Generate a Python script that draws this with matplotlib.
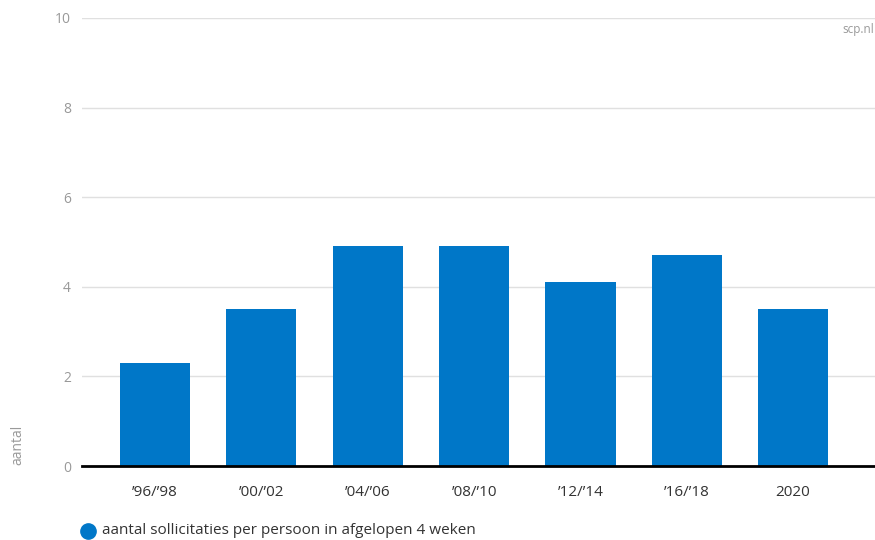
import numpy as np
import matplotlib.pyplot as plt
from matplotlib.lines import Line2D

# data
periodes = ['\u201996/\u201998', '\u201900/\u201902', '\u201904/\u201906', '\u201908/\u201910',
            '\u201912/\u201914', '\u201916/\u201918', '2020']
sollicitaties = [2.3, 3.5, 4.9, 4.9, 4.1, 4.7, 3.5]
yticks = [0, 2, 4, 6, 8, 10]

plt.rcParams['font.family'] = ['Open Sans', 'DejaVu Sans']

fig = plt.figure(figsize=(8.75, 5.4), dpi=100)
ax = fig.add_axes([82/875, 1-466/540, 1-82/875, (466-18)/540])

x = np.arange(len(periodes))
ax.bar(x, sollicitaties, width=0.66, color='#0077c8', zorder=2)

ax.set_ylim(0, 10)
ax.set_xlim(-0.687, 6.77)
ax.set_yticks(yticks)
ax.set_yticklabels([str(v) for v in yticks], color='#999999', fontsize=10)
ax.set_xticks(x)
ax.set_xticklabels(periodes, color='#333333', fontsize=11)
ax.tick_params(axis='both', length=0)
ax.tick_params(axis='y', pad=8)
ax.tick_params(axis='x', pad=14)
ax.grid(axis='y', color='#e0e0e0', linewidth=1, zorder=0)
for s in ['top', 'right', 'left']:
    ax.spines[s].set_visible(False)
ax.spines['bottom'].set_color('black')
ax.spines['bottom'].set_linewidth(2)
ax.spines['bottom'].set_zorder(3)

fig.text(18/875, 1-445/540, 'aantal', rotation=90, color='#999999', fontsize=10,
         ha='center', va='center')
fig.text(874/875, 1-30/540, 'scp.nl', color='#999999', fontsize=8.5, ha='right', va='center')

# legend
fig.add_artist(Line2D([88/875], [1-531/540], marker='o', markersize=11, color='#0077c8',
                      linestyle='none', transform=fig.transFigure))
fig.text(102/875, 1-531/540, 'aantal sollicitaties per persoon in afgelopen 4 weken',
         color='#333333', fontsize=11, ha='left', va='center')

fig.savefig('out.png', dpi=100)
